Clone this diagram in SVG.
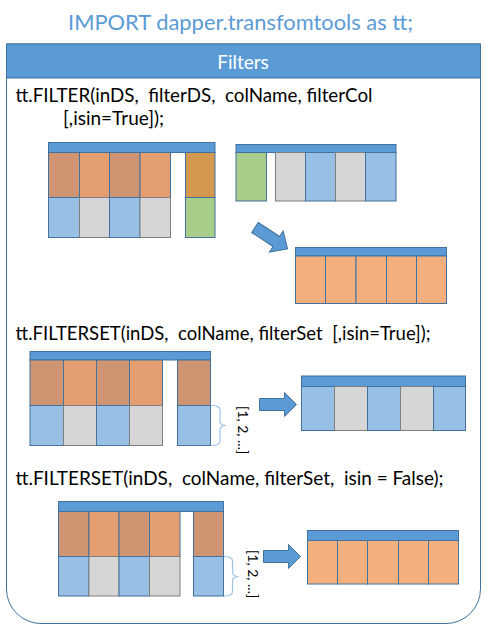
<svg xmlns="http://www.w3.org/2000/svg" width="490" height="643" viewBox="0 0 490 643">
<style>
text{font-family:Lato,"Liberation Sans",sans-serif;}
.title{font-size:22px;fill:#5B9BD5;}
.hdr{font-size:19px;fill:#ffffff;text-anchor:middle;}
.code{font-size:19px;fill:#000000;white-space:pre;}
.set{font-size:14px;fill:#000000;white-space:pre;}
.bar{fill:#5B9BD5;stroke:#41719C;stroke-width:1;}
.br{fill:#CF9472;stroke:#41719C;stroke-width:1;}
.or{fill:#E59E6F;stroke:#41719C;stroke-width:1;}
.gd{fill:#D4984F;stroke:#41719C;stroke-width:1;}
.bl{fill:#97C0E4;stroke:#41719C;stroke-width:1;}
.gr{fill:#D6D6D6;stroke:#7F7F7F;stroke-width:1;}
.gn{fill:#A8CC8A;stroke:#41719C;stroke-width:1;}
.lo{fill:#F3AF7E;stroke:#41719C;stroke-width:1;}
.arrow{fill:#5B9BD5;stroke:#41719C;stroke-width:1;}
.brace{fill:none;stroke:#9DC3E6;stroke-width:1.2;}
</style>
<g id="title"><text class="title" x="68" y="30" textLength="345" lengthAdjust="spacingAndGlyphs">IMPORT dapper.transfomtools as tt;</text></g>
<g id="panel">
<path d="M6.5,44 L480.5,44 L480.5,589 A34.5,34.5 0 0 1 446,623.5 L41,623.5 A34.5,34.5 0 0 1 6.5,589 Z" fill="#ffffff" stroke="#41719C" stroke-width="1"/>
<rect x="6.5" y="44" width="474" height="34" fill="#5B9BD5" stroke="#41719C" stroke-width="1"/>
<text class="hdr" x="243" y="69">Filters</text>
</g>
<g id="code-filter">
<text class="code" x="15.5" y="102" textLength="357" lengthAdjust="spacingAndGlyphs">tt.FILTER(inDS,  filterDS,  colName, filterCol</text>
<text class="code" x="63" y="125">[,isin=True]);</text>
</g>
<g id="code-filterset-true"><text class="code" x="15.5" y="340" textLength="415" lengthAdjust="spacingAndGlyphs">tt.FILTERSET(inDS,  colName, filterSet  [,isin=True]);</text></g>
<g id="code-filterset-false"><text class="code" x="15.5" y="485" textLength="428" lengthAdjust="spacingAndGlyphs">tt.FILTERSET(inDS,  colName, filterSet,  isin = False);</text></g>

<g id="table-inDS-1">
<rect class="bar" x="48.5" y="142.5" width="166.5" height="10"/>
<rect class="br" x="48.5" y="152.5" width="31" height="45"/>
<rect class="or" x="79.5" y="152.5" width="30" height="45"/>
<rect class="br" x="109.5" y="152.5" width="30.5" height="45"/>
<rect class="or" x="140" y="152.5" width="30.5" height="45"/>
<rect class="gd" x="185.5" y="152.5" width="29.5" height="45"/>
<rect class="bl" x="48.5" y="197.5" width="31" height="40"/>
<rect class="gr" x="79.5" y="197.5" width="30" height="40"/>
<rect class="bl" x="109.5" y="197.5" width="30.5" height="40"/>
<rect class="gr" x="140" y="197.5" width="30.5" height="40"/>
<rect class="gn" x="185.5" y="197.5" width="29.5" height="40"/>
</g>
<g id="table-filterDS">
<rect class="bar" x="236" y="144.5" width="160" height="8"/>
<rect class="gn" x="236" y="152.5" width="30.5" height="48.5"/>
<rect class="gr" x="275.5" y="152.5" width="30" height="48.5"/>
<rect class="bl" x="305.5" y="152.5" width="30" height="48.5"/>
<rect class="gr" x="335.5" y="152.5" width="30" height="48.5"/>
<rect class="bl" x="365.5" y="152.5" width="30.5" height="48.5"/>
</g>
<g id="table-result-1">
<rect class="bar" x="295.5" y="247.5" width="151" height="8.5"/>
<rect class="lo" x="295.5" y="256" width="30" height="47.5"/>
<rect class="lo" x="325.5" y="256" width="30.5" height="47.5"/>
<rect class="lo" x="356" y="256" width="30.5" height="47.5"/>
<rect class="lo" x="386.5" y="256" width="30" height="47.5"/>
<rect class="lo" x="416.5" y="256" width="30" height="47.5"/>
</g>

<g id="table-inDS-2">
<rect class="bar" x="30" y="351.5" width="180.5" height="8.5"/>
<rect class="br" x="30" y="360" width="33.5" height="45.5"/>
<rect class="or" x="63.5" y="360" width="33" height="45.5"/>
<rect class="br" x="96.5" y="360" width="33" height="45.5"/>
<rect class="or" x="129.5" y="360" width="33" height="45.5"/>
<rect class="br" x="177.5" y="360" width="33" height="45.5"/>
<rect class="bl" x="30" y="405.5" width="33.5" height="40"/>
<rect class="gr" x="63.5" y="405.5" width="33" height="40"/>
<rect class="bl" x="96.5" y="405.5" width="33" height="40"/>
<rect class="gr" x="129.5" y="405.5" width="33" height="40"/>
<rect class="bl" x="177.5" y="405.5" width="33" height="40"/>
</g>
<g id="set-1">
<path class="brace" d="M211.5,405.5 Q220,405.5 220,410 L220,421 Q220,425.5 226,425.5 Q220,425.5 220,430 L220,441 Q220,445.5 211.5,445.5"/>
<text class="set" transform="translate(237.5,406) rotate(90)">[1, 2, ...]</text>
</g>
<g id="table-result-2">
<rect class="bar" x="301.5" y="376" width="164" height="10.5"/>
<rect class="bl" x="301.5" y="386.5" width="33" height="44"/>
<rect class="gr" x="334.5" y="386.5" width="33" height="44"/>
<rect class="bl" x="367.5" y="386.5" width="33" height="44"/>
<rect class="gr" x="400.5" y="386.5" width="33" height="44"/>
<rect class="bl" x="433.5" y="386.5" width="32" height="44"/>
</g>

<g id="table-inDS-3">
<rect class="bar" x="58.5" y="501.5" width="165" height="10"/>
<rect class="br" x="58.5" y="511.5" width="30.5" height="45"/>
<rect class="or" x="89" y="511.5" width="30" height="45"/>
<rect class="br" x="119" y="511.5" width="30.5" height="45"/>
<rect class="or" x="149.5" y="511.5" width="30.5" height="45"/>
<rect class="br" x="193.5" y="511.5" width="30" height="45"/>
<rect class="bl" x="58.5" y="556.5" width="30.5" height="39.5"/>
<rect class="gr" x="89" y="556.5" width="30" height="39.5"/>
<rect class="bl" x="119" y="556.5" width="30.5" height="39.5"/>
<rect class="gr" x="149.5" y="556.5" width="30.5" height="39.5"/>
<rect class="bl" x="193.5" y="556.5" width="30" height="39.5"/>
</g>
<g id="set-2">
<path class="brace" d="M224,556.5 Q232.5,556.5 232.5,561 L232.5,572 Q232.5,576.5 238.5,576.5 Q232.5,576.5 232.5,581 L232.5,591.5 Q232.5,596 224,596"/>
<text class="set" transform="translate(248,550) rotate(90)">[1, 2, ...]</text>
</g>
<g id="table-result-3">
<rect class="bar" x="307.5" y="530.5" width="151" height="10"/>
<rect class="lo" x="307.5" y="540.5" width="30" height="43.5"/>
<rect class="lo" x="337.5" y="540.5" width="30" height="43.5"/>
<rect class="lo" x="367.5" y="540.5" width="31" height="43.5"/>
<rect class="lo" x="398.5" y="540.5" width="30" height="43.5"/>
<rect class="lo" x="428.5" y="540.5" width="30" height="43.5"/>
</g>

<g id="connectors">
<polygon class="arrow" transform="translate(255,227.5) rotate(33.3)" points="0,-6 25.5,-6 25.5,-12.5 39,0 25.5,12.5 25.5,6 0,6"/>
<polygon class="arrow" points="259.5,398.5 284.5,398.5 284.5,392.5 296.5,404.5 284.5,416.5 284.5,410.5 259.5,410.5"/>
<polygon class="arrow" points="263.5,550.5 288.5,550.5 288.5,544.5 300.5,556.5 288.5,568.5 288.5,562.5 263.5,562.5"/>
</g>
</svg>
